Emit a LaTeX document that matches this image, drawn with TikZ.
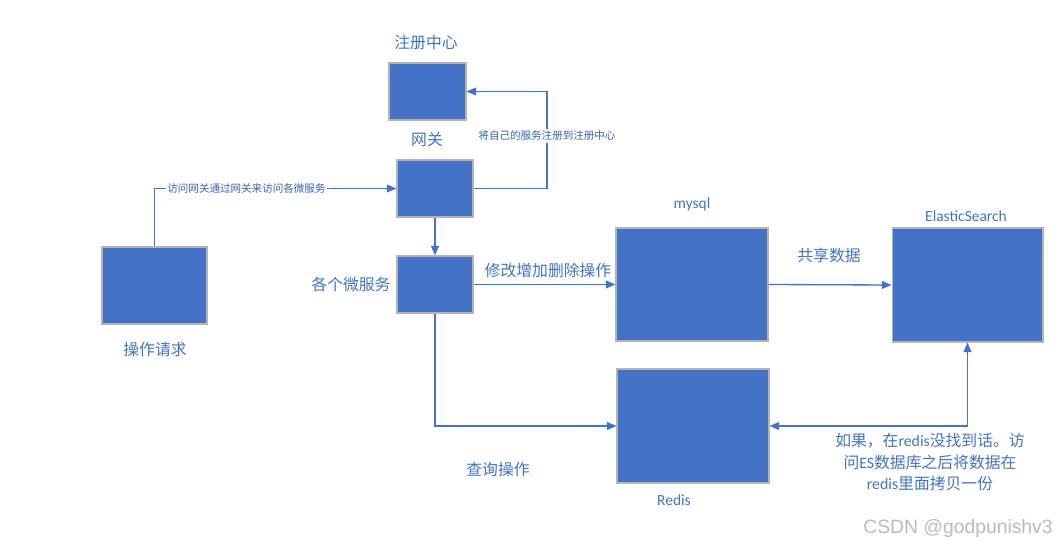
\documentclass[tikz,border=0pt]{standalone}
\usepackage{fontspec}
\setmainfont{Carlito}
\newfontfamily\cjk{Noto Sans CJK SC}
\newfontfamily\wmfont{Liberation Sans}
\usetikzlibrary{arrows.meta}
\definecolor{boxblue}{HTML}{4472C4}
\definecolor{boxedge}{HTML}{B4B4B4}
\definecolor{txtblue}{HTML}{4472C4}
\definecolor{tagblue}{HTML}{3B62AE}

\begin{document}
\begin{tikzpicture}[x=0.02cm,y=-0.02cm]
  \tikzstyle{box}=[rectangle,fill=boxblue,draw=boxedge,line width=0.6pt]
  \tikzstyle{lbl}=[text=txtblue,font=\cjk\fontsize{9}{11}\selectfont]
  \tikzstyle{tag}=[text=tagblue,font=\cjk\fontsize{6}{7}\selectfont,fill=white,inner sep=1pt]
  \tikzstyle{dbname}=[text=txtblue,font=\fontsize{8.8}{10}\selectfont]
  \tikzstyle{link}=[draw=boxblue,line width=0.75pt,-{Triangle[length=5.5pt,width=4.5pt]}]

  \useasboundingbox (0,0) rectangle (1057,547);

  % boxes
  \node[box,minimum width=1.54cm,minimum height=1.14cm](reg) at (427.5,91.5){};
  \node[box,minimum width=1.52cm,minimum height=1.14cm](gw) at (435,188.5){};
  \node[box,minimum width=2.10cm,minimum height=1.54cm](req) at (154.5,285.5){};
  \node[box,minimum width=1.52cm,minimum height=1.14cm](ms) at (435,284.5){};
  \node[box,minimum width=3.04cm,minimum height=2.26cm](mysql) at (692,284.5){};
  \node[box,minimum width=3.02cm,minimum height=2.28cm](es) at (967.5,285){};
  \node[box,minimum width=3.04cm,minimum height=2.28cm](redis) at (693,426){};

  % labels
  \node[lbl](regtxt) at (426,43){注册中心};
  \node[lbl](gwtxt) at (427,140){网关};
  \node[lbl](reqtxt) at (155,350){操作请求};
  \node[lbl](mstxt) at (351,284){各个微服务};
  \node[lbl](writetxt) at (548,270){修改增加删除操作};
  \node[lbl](readtxt) at (498,469){查询操作};
  \node[lbl](sharetxt) at (829,255){共享数据};
  \node[dbname](mysqltxt) at (692,204){mysql};
  \node[dbname](estxt) at (966,216){ElasticSearch};
  \node[dbname](redistxt) at (674,500){Redis};
  \node[text=txtblue,font=\fontsize{9}{12.2}\selectfont,align=center](note) at (930,462)
    {{\cjk 如果，在}redis{\cjk 没找到话。访}\\{\cjk 问}ES{\cjk 数据库之后将数据在}\\redis{\cjk 里面拷贝一份}};
  \node[text=black!27,font=\wmfont\fontsize{11}{12}\selectfont](mark) at (958,528){CSDN @godpunishv3};

  % connectors
  \coordinate (regturn) at (547,136);
  \draw[link] (gw.east) -| (regturn) |- (reg.east);
  \node[tag] at (regturn){将自己的服务注册到注册中心};

  \draw[link] (req.north) |- node[tag,pos=0.69]{访问网关通过网关来访问各微服务} (gw.west);
  \draw[link] (gw) -- (ms);
  \draw[link] (ms.east) -- (mysql.west);
  \draw[link] (ms.south) |- (redis.west);
  \draw[link] (mysql.east) -- (es.west);
  \draw[link,{Triangle[length=5.5pt,width=4.5pt]}-{Triangle[length=5.5pt,width=4.5pt]}] (es.south) |- (redis.east);
\end{tikzpicture}
\end{document}
